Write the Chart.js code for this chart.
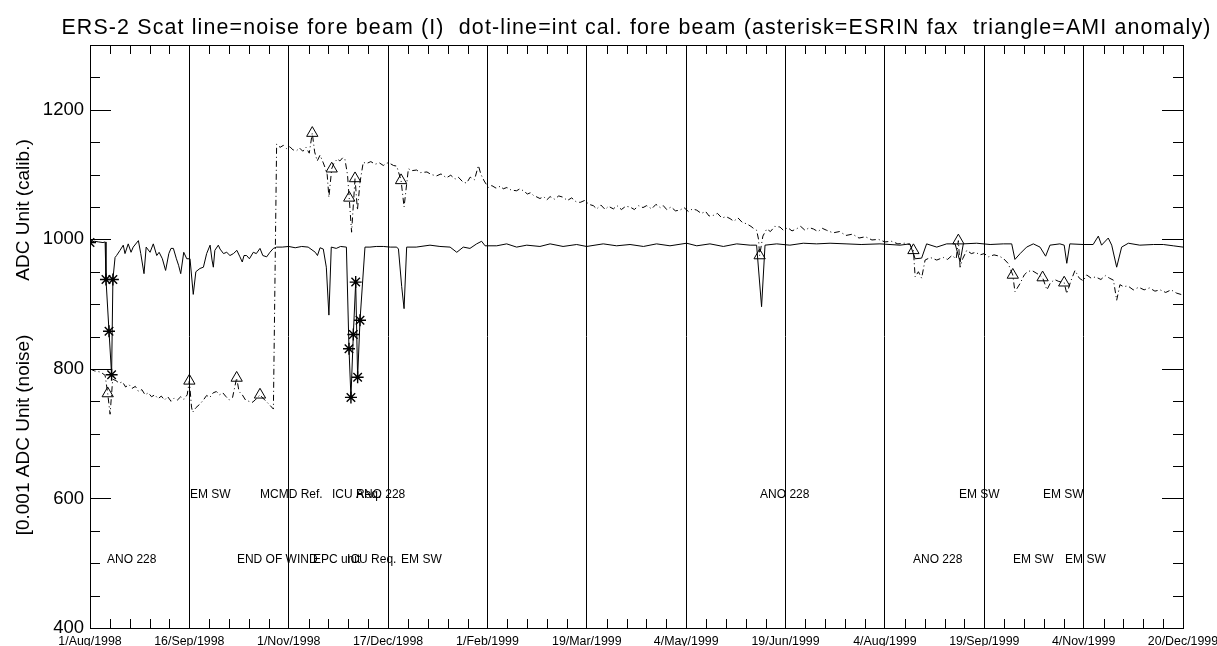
<!DOCTYPE html>
<html>
<head>
<meta charset="utf-8">
<title>ERS-2 Scat fore beam noise / int cal</title>
<script src="https://cdn.jsdelivr.net/npm/chart.js@4.4.0/dist/chart.umd.min.js"></script>
<style>
  body { margin: 0; background: #fff; }
  #wrap { width: 1217px; height: 646px; }
</style>
</head>
<body>
<div id="wrap"><canvas id="scat" width="1217" height="646"></canvas></div>
<script>
// x values are days counted from 1/Aug/1998
const xTickDays = [0, 46, 92, 138, 184, 230, 276, 322, 368, 414, 460, 506];
const xTickLabels = ['1/Aug/1998', '16/Sep/1998', '1/Nov/1998', '17/Dec/1998', '1/Feb/1999', '19/Mar/1999',
  '4/May/1999', '19/Jun/1999', '4/Aug/1999', '19/Sep/1999', '4/Nov/1999', '20/Dec/1999'];
const yTickValues = [400, 600, 800, 1000, 1200];

// noise fore beam (I), 0.001 ADC unit
const noiseDays = [0, 2, 4, 6, 7, 7.4, 8.8, 10, 10.6, 11.6, 12.3, 13.9, 15.4, 16.2, 17.7, 19, 20, 22.4, 23.5, 25,
  26, 27.8, 29.3, 30.9, 32, 33.5, 35, 36.5, 37.5, 38.6, 40, 41, 42, 43.4, 44.8, 46.3, 47.8, 49, 50.9, 52.5,
  54, 55.6, 56.5, 57.1, 57.8, 59.4, 60.2, 61.8, 63.3, 64.8, 66.4, 68, 69.4, 70.5, 71.3, 72.5, 73.8, 75.6, 77, 78.7,
  80, 81.8, 83.3, 84.9, 86.4, 89, 92, 95, 98, 101, 104.3, 105.3, 106.5, 108, 109.4, 110.6, 111.7, 114, 116, 118.7,
  119.9, 120.8, 121.9, 123, 123.9, 125, 127.3, 129.6, 132.5, 135.8, 139, 142, 142.8, 144.3, 145.4, 146.6, 151, 157.4, 162, 166.7,
  169.8, 172.8, 175.9, 179, 181.3, 182.9, 188.3, 192.9, 197.5, 202.2, 208.3, 213, 219, 225.3, 229.9, 237.6, 243.8, 250, 256.2, 262.3,
  268.5, 276.2, 280.9, 287, 293.2, 299.4, 305.6, 308.6, 310.9, 312.5, 317.9, 324, 330.2, 336.4, 342.6, 350, 357, 365.7, 375, 379.6,
  382, 385, 387.3, 392, 396.6, 400.5, 402.8, 404.3, 410.5, 416.7, 422.8, 426.7, 428.2, 430.6, 433.6, 436.7, 439.8, 442.4, 444.4, 449,
  451, 452.2, 453.6, 459.8, 464.4, 466.8, 468.3, 471.4, 473, 475.3, 477.6, 480.7, 486, 492.3, 496.9, 501.5, 506];
const noiseValues = [995, 997, 996, 995, 996, 938, 858, 791, 938, 972, 975, 983, 991, 978, 993, 980, 988, 998, 978, 947,
  988, 980, 993, 975, 980, 970, 952, 978, 986, 986, 970, 960, 947, 980, 970, 970, 915, 950, 955, 957,
  978, 991, 968, 957, 983, 991, 985, 978, 980, 975, 978, 983, 973, 965, 975, 975, 970, 980, 978, 986,
  975, 973, 980, 986, 988, 988, 989, 987, 989, 988, 980, 975, 987, 985, 957, 883, 988, 986, 989, 988,
  831, 756, 853, 934, 787, 875, 988, 988, 989, 989, 988, 988, 985, 927, 893, 988, 988, 991, 989, 988,
  980, 988, 986, 993, 997, 990, 990, 993, 988, 991, 989, 993, 989, 992, 989, 993, 990, 992, 989, 993,
  990, 994, 990, 993, 989, 993, 991, 991, 896, 991, 993, 991, 994, 993, 994, 993, 992, 993, 991, 993,
  970, 971, 993, 988, 993, 993, 965, 993, 994, 992, 993, 993, 969, 978, 988, 993, 988, 974, 991, 993,
  991, 963, 993, 992, 992, 1005, 991, 1002, 991, 957, 988, 994, 991, 992, 992, 990, 988];

// internal calibration fore beam, ADC unit
const calDays = [0, 2, 5, 7, 8.2, 9.3, 10.5, 12, 13.5, 15, 16.5, 18, 19.5, 21, 22.5, 24, 25.5, 27, 28.5, 30,
  31.5, 33, 34.5, 36, 37.5, 39, 40.5, 42, 43.5, 45, 46, 47, 47.5, 49, 51, 52.5, 54, 55.5, 57, 58.5,
  60, 61.5, 63, 64.5, 66, 67.9, 69, 70.5, 72, 73.5, 75, 76.5, 78.7, 80, 81.5, 83, 84.9, 86.4, 88, 89.5,
  91, 92.5, 94, 95.7, 97, 98.5, 100, 101.5, 102.9, 104, 105.2, 106.5, 108, 108.8, 109.8, 110.6, 111.9, 113, 114.5, 115.7,
  117, 118, 119.2, 120, 121.1, 122.7, 123.8, 125, 126.5, 128, 130, 132, 134, 135.8, 137.5, 138.9, 140.5, 142, 144, 145.4,
  147.4, 149, 151.2, 153, 156, 158, 160.5, 162.5, 165, 167, 169, 170.5, 172.8, 174.4, 176, 178, 179.8, 181, 182.5, 184.4,
  186, 188, 190, 191.3, 193, 195, 197.5, 199, 200.6, 202.5, 204, 205.2, 206.5, 208.3, 210, 211.5, 213, 215, 217, 219,
  221, 223, 225, 226.9, 229, 231, 233, 234.6, 236.5, 238.5, 240, 242.3, 244, 246, 248, 250, 252, 254, 256, 257.7,
  260, 262, 264, 265.4, 267, 269, 271, 273.1, 275, 277, 279, 280.9, 283, 285, 286.6, 288.6, 290.5, 292.5, 294.5, 296.3,
  298, 300, 302, 304, 306, 307.5, 308.6, 309.5, 310, 311.5, 313.3, 315, 317, 319.4, 321, 323, 325, 327, 329, 331,
  333, 334.9, 337, 339, 341, 344, 347, 350, 353, 356, 359, 362, 365, 368, 371, 374, 377, 379.5, 381.2, 382,
  383.5, 385, 386.6, 389, 392, 395, 397, 399, 401, 402, 402.8, 404, 405.9, 408, 410, 412, 414, 416, 418.5, 421,
  423, 425, 427.2, 428.2, 430.6, 432.5, 434, 436, 438, 439.5, 441, 443, 444.5, 446.5, 448.5, 451, 452.2, 454, 456, 458,
  459.8, 461.4, 463.5, 465.5, 468, 470, 472, 473.8, 475.3, 476.8, 478.4, 480.5, 483, 485.5, 488, 490.5, 493, 495.4, 498, 500.5,
  503, 506];
const calValues = [800, 797, 795, 790, 762, 730, 784, 782, 778, 780, 772, 776, 770, 773, 765, 768, 760, 763, 757, 760,
  754, 758, 752, 757, 750, 755, 752, 757, 753, 760, 781.5, 741, 733, 740, 746, 752, 759, 756, 763, 765,
  760, 763, 757, 752, 756, 786, 765, 760, 752, 750, 748, 752, 760, 755, 750, 745, 738, 1147, 1142, 1145,
  1140, 1143, 1138, 1137, 1141, 1136, 1142, 1133, 1164, 1135, 1121, 1130, 1118, 1111, 1100, 1065, 1109, 1118, 1124, 1121,
  1126, 1124, 1100, 1064, 1011, 1094, 1045, 1088, 1119, 1117, 1120, 1116, 1118, 1114, 1118, 1117, 1114, 1113, 1091, 1050,
  1109, 1106, 1107, 1103, 1104, 1100, 1098, 1101, 1095, 1099, 1093, 1096, 1088, 1087, 1096, 1092, 1114, 1100, 1090, 1080,
  1083, 1079, 1082, 1078, 1080, 1076, 1075, 1078, 1075, 1070, 1072, 1068, 1066, 1063, 1066, 1061, 1066, 1062, 1067, 1065,
  1060, 1064, 1058, 1057, 1060, 1054, 1052, 1047, 1053, 1046, 1051, 1047, 1052, 1046, 1051, 1050, 1046, 1052, 1049, 1052,
  1047, 1054, 1049, 1052, 1046, 1050, 1044, 1045, 1049, 1043, 1047, 1045, 1040, 1043, 1036, 1037, 1040, 1033, 1035, 1032,
  1028, 1033, 1026, 1024, 1020, 1016, 1014, 1000, 975, 1005, 1016, 1012, 1020, 1019, 1014, 1018, 1013, 1016, 1020, 1014,
  1018, 1016, 1012, 1017, 1014, 1010, 1012, 1006, 1008, 1002, 1004, 999, 1000, 996, 997, 993, 994, 992, 983, 942,
  950, 940, 968, 972, 968, 972, 969, 975, 970, 998, 957, 970, 983, 978, 980, 976, 978, 973, 976, 974,
  970, 963, 945, 919, 932, 945, 950, 952, 948, 945, 941, 922, 932, 938, 935, 933, 916, 935, 952, 940,
  936, 945, 940, 942, 938, 944, 940, 937, 906, 930, 927, 928, 922, 926, 922, 925, 920, 922, 918, 922,
  917, 914];

// asterisk = ESRIN fax (on the noise line)
const faxDays = [0, 7.4, 8.8, 10, 10.6, 119.9, 120.8, 121.9, 123, 123.9, 125];
const faxValues = [995, 938, 858, 791, 938, 831, 756, 853, 934, 787, 875];

// triangle = AMI anomaly (on the int cal line)
const anomalyDays = [8.2, 46, 67.9, 78.7, 102.9, 111.9, 120, 122.7, 144, 310, 381.2, 402, 427.2, 441, 451];
const anomalyValues = [762, 781.5, 786, 760, 1164, 1109, 1064, 1094, 1091, 975, 983, 998, 945, 941, 933];

// event notes written along the bottom, at level 600 or 500
const eventDays = [46.3, 78.7, 112, 123.1, 310.2, 402.3, 441.2, 7.9, 68, 103.2, 119, 144, 381, 427.3, 451.4];
const eventLevels = [600, 600, 600, 600, 600, 600, 600, 500, 500, 500, 500, 500, 500, 500, 500];
const eventLabels = ['EM SW', 'MCMD Ref.', 'ICU Req.', 'ANO 228', 'ANO 228', 'EM SW', 'EM SW',
  'ANO 228', 'END OF WIND', 'EPC unit', 'ICU Req.', 'EM SW', 'ANO 228', 'EM SW', 'EM SW'];

const chartTitle = 'ERS-2 Scat line=noise fore beam (I)  dot-line=int cal. fore beam (asterisk=ESRIN fax  triangle=AMI anomaly)';
const yTitleUpper = 'ADC Unit (calib.)';
const yTitleLower = '[0.001 ADC Unit (noise)';

const FONT = '"Liberation Sans", Arial, Helvetica, sans-serif';

const toPoints = (xs, ys) => xs.map((x, i) => ({ x: x, y: ys[i] }));

// frame, inner tick marks, notes and titles
const decorations = {
  id: 'decorations',
  afterDatasetsDraw(chart) {
    const { ctx, chartArea: a, scales: { x, y } } = chart;
    ctx.save();
    ctx.strokeStyle = '#000';
    ctx.lineWidth = 1;
    ctx.beginPath();
    for (let i = 0; i < xTickDays.length - 1; i++) {
      const step = (xTickDays[i + 1] - xTickDays[i]) / 5;
      for (let k = 1; k < 5; k++) {
        const px = Math.round(x.getPixelForValue(xTickDays[i] + k * step)) + 0.5;
        ctx.moveTo(px, a.bottom); ctx.lineTo(px, a.bottom - 9);
        ctx.moveTo(px, a.top); ctx.lineTo(px, a.top + 9);
      }
    }
    for (let v = y.min + 50; v < y.max; v += 50) {
      const len = yTickValues.includes(v) ? 21 : 10;
      const py = Math.round(y.getPixelForValue(v)) + 0.5;
      ctx.moveTo(a.left, py); ctx.lineTo(a.left + len, py);
      ctx.moveTo(a.right, py); ctx.lineTo(a.right - len, py);
    }
    ctx.stroke();
    ctx.strokeRect(Math.round(a.left) + 0.5, Math.round(a.top) + 0.5,
      Math.round(a.right - a.left), Math.round(a.bottom - a.top));

    ctx.fillStyle = '#000';
    ctx.font = '12px ' + FONT;
    ctx.textAlign = 'left';
    ctx.textBaseline = 'alphabetic';
    eventLabels.forEach((label, i) => {
      ctx.fillText(label, x.getPixelForValue(eventDays[i]), y.getPixelForValue(eventLevels[i]));
    });
    ctx.restore();
  },
  afterDraw(chart) {
    const { ctx, chartArea: a } = chart;
    ctx.save();
    ctx.fillStyle = '#000';
    ctx.font = '21.4px ' + FONT;
    ctx.letterSpacing = '1.15px';
    ctx.textAlign = 'center';
    ctx.textBaseline = 'alphabetic';
    ctx.fillText(chartTitle, (a.left + a.right) / 2, 34);
    ctx.letterSpacing = '0px';

    ctx.font = '19px ' + FONT;
    ctx.translate(29, 0);
    ctx.rotate(-Math.PI / 2);
    ctx.fillText(yTitleUpper, -210, 0);
    ctx.fillText(yTitleLower, -435, 0);
    ctx.restore();
  }
};

new Chart(document.getElementById('scat'), {
  type: 'scatter',
  data: {
    datasets: [
      {
        label: 'noise fore beam',
        data: toPoints(noiseDays, noiseValues),
        showLine: true,
        borderColor: '#000',
        borderWidth: 1,
        pointRadius: 0
      },
      {
        label: 'int cal. fore beam',
        data: toPoints(calDays, calValues),
        showLine: true,
        borderColor: '#000',
        borderWidth: 1,
        borderDash: [6, 3, 1, 3],
        pointRadius: 0
      },
      {
        label: 'ESRIN fax',
        data: toPoints(faxDays, faxValues),
        showLine: false,
        pointStyle: 'star',
        pointRadius: 6,
        borderColor: '#000',
        borderWidth: 1.4
      },
      {
        label: 'AMI anomaly',
        data: toPoints(anomalyDays, anomalyValues),
        showLine: false,
        pointStyle: 'triangle',
        pointRadius: 6.5,
        borderColor: '#000',
        backgroundColor: 'rgba(0,0,0,0)',
        borderWidth: 1
      }
    ]
  },
  options: {
    responsive: false,
    animation: false,
    events: [],
    layout: { padding: { top: 45, right: 34, left: 0, bottom: 0 } },
    plugins: {
      legend: { display: false },
      tooltip: { enabled: false },
      title: { display: false }
    },
    scales: {
      x: {
        type: 'linear',
        min: 0,
        max: 506,
        afterBuildTicks: scale => { scale.ticks = xTickDays.map(v => ({ value: v })); },
        afterFit: scale => {
          scale.height = 18;
          // end labels may hang past the plot edges
          scale.paddingLeft = 0;
          scale.paddingRight = 0;
        },
        ticks: {
          callback: (value, index) => xTickLabels[index],
          font: { family: FONT, size: 12.4 },
          color: '#000',
          padding: 6,
          maxRotation: 0,
          autoSkip: false
        },
        grid: { color: '#000', lineWidth: 1, drawTicks: false },
        border: { display: false }
      },
      y: {
        min: 400,
        max: 1300,
        afterBuildTicks: scale => { scale.ticks = yTickValues.map(v => ({ value: v })); },
        afterFit: scale => { scale.width = 90; },
        ticks: {
          callback: value => String(value),
          font: { family: FONT, size: 18.5 },
          color: '#000',
          padding: 6
        },
        grid: { drawOnChartArea: false, drawTicks: false },
        border: { display: false }
      }
    }
  },
  plugins: [decorations]
});
</script>
</body>
</html>
